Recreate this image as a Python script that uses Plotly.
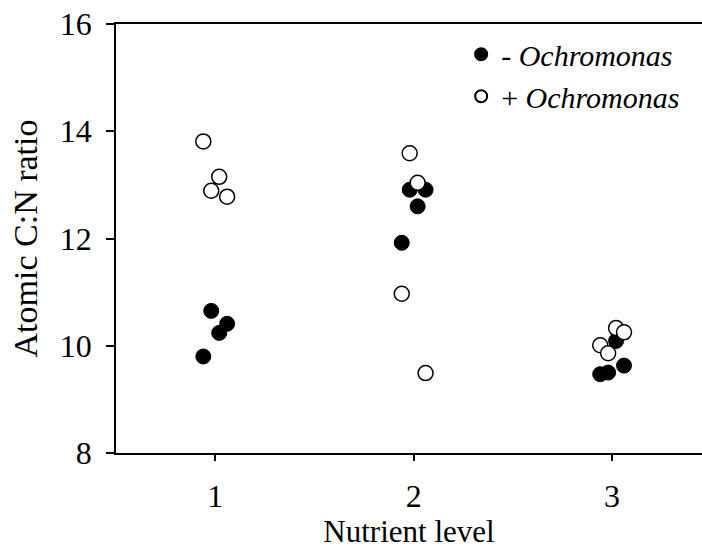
import plotly.graph_objects as go

# Data
levels = [1, 1, 1, 1, 2, 2, 2, 2, 3, 3, 3, 3]
jitter = [-0.06, -0.02, 0.02, 0.06] * 3
minus_ochro = [9.80, 10.65, 10.24, 10.41,
               11.92, 12.91, 12.60, 12.91,
               9.47, 9.50, 10.09, 9.63]
plus_ochro = [13.81, 12.89, 13.15, 12.78,
              10.97, 13.59, 13.04, 9.49,
              10.01, 9.86, 10.33, 10.25]
x_ticks = [1, 2, 3]
y_ticks = [8, 10, 12, 14, 16]

xpos = [l + j for l, j in zip(levels, jitter)]
FONT = "Liberation Serif, Times New Roman, serif"

fig = go.Figure()
fig.add_trace(go.Scatter(
    x=xpos, y=minus_ochro, mode="markers", name="- <i>Ochromonas</i>",
    marker=dict(size=15, color="black", line=dict(color="black", width=1)),
))
fig.add_trace(go.Scatter(
    x=xpos, y=plus_ochro, mode="markers", name="+ <i>Ochromonas</i>",
    marker=dict(size=15, color="white", line=dict(color="black", width=1.5)),
))

fig.update_layout(
    template="none",
    width=702, height=554,
    margin=dict(l=116, r=0, t=24, b=101, pad=0),
    paper_bgcolor="white", plot_bgcolor="white",
    font=dict(family=FONT, size=32, color="black"),
    showlegend=True,
    legend=dict(x=0.589, y=0.99, xanchor="left", yanchor="top",
                bgcolor="rgba(0,0,0,0)", borderwidth=0, itemsizing="constant",
                font=dict(family=FONT, size=30)),
    xaxis=dict(range=[0.5, 3.453], tickvals=x_ticks, ticks="outside", ticklen=6,
               tickcolor="black", tickwidth=1.5,
               showline=True, linecolor="black", linewidth=1.5, mirror=True,
               showgrid=False, zeroline=False, ticklabelstandoff=8,
               title=dict(text="Nutrient level", font=dict(size=31), standoff=6)),
    yaxis=dict(range=[8, 16], tickvals=y_ticks, ticks="outside", ticklen=8,
               tickcolor="black", tickwidth=1.5,
               showline=True, linecolor="black", linewidth=1.5, mirror=False,
               showgrid=False, zeroline=False, ticklabelstandoff=8,
               ticklabeloverflow="allow",
               title=dict(text="Atomic C:N ratio", font=dict(size=34), standoff=12)),
)

fig.write_html(
    "out.html",
    config={"displayModeBar": False},
    post_script="document.body.style.margin='0px';document.body.style.overflow='hidden';",
)
